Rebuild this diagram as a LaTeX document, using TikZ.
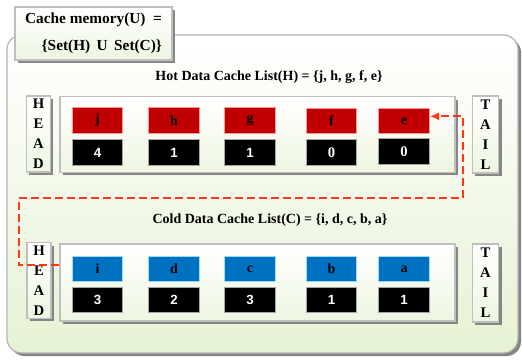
\documentclass[tikz,border=0pt]{standalone}
\usepackage{fontspec}
\setmainfont{Liberation Serif}
\newfontfamily\sansf{Liberation Sans}
\newfontfamily\seriff{Liberation Serif}
\usetikzlibrary{shadows,arrows.meta}
\definecolor{lgreen}{RGB}{230,242,212}
\definecolor{hotred}{RGB}{192,0,0}
\definecolor{coldblue}{RGB}{0,112,192}
\definecolor{dashred}{RGB}{255,55,20}
\begin{document}
\begin{tikzpicture}[x=0.75pt,y=-0.75pt,
  shad/.style={drop shadow={shadow xshift=2.2pt,shadow yshift=-2.2pt,fill=black!55,opacity=.85}},
  panel/.style={draw=gray!50,line width=0.9pt,top color=white,bottom color=lgreen!70,shad,inner sep=0pt},
  letters/.style={panel,minimum width=18pt,font=\seriff\fontsize{11}{15}\selectfont\bfseries,align=center},
  listbox/.style={panel,minimum width=296.25pt,minimum height=56.5pt},
  cell/.style={minimum width=38pt,minimum height=19pt,inner sep=0pt,line width=0.6pt},
  hot/.style={cell,fill=hotred,draw=red!40,font=\seriff\fontsize{10.5}{12}\selectfont\bfseries},
  cold/.style={cell,fill=coldblue,draw=cyan!40,font=\seriff\fontsize{10.5}{12}\selectfont\bfseries},
  cnt/.style={cell,fill=black,draw=gray!70,text=white,font=\sansf\fontsize{10}{12}\selectfont\bfseries},
  cntz/.style={cnt,font=\seriff\fontsize{11}{12}\selectfont\bfseries},
  ttl/.style={font=\seriff\fontsize{10.5}{12}\selectfont\bfseries},
  arr/.style={draw=dashred,line width=1.5pt,dash pattern=on 6pt off 3pt,-{Latex[length=7pt,width=6pt]}}
]
\useasboundingbox (0,0) rectangle (522,360);
% outer memory panel
\node[draw=gray!60,line width=0.9pt,rounded corners=11pt,top color=white,bottom color=lgreen,
      drop shadow={shadow xshift=2.3pt,shadow yshift=-2.3pt,fill=black!60,opacity=.8},
      minimum width=383.25pt,minimum height=238.5pt,inner sep=0pt] (mem) at (262.5,194) {};
% title box
\node[panel,minimum width=117.75pt,minimum height=39.75pt,align=right,
      font=\seriff\fontsize{11.5}{20}\selectfont\bfseries] (ttlbox) at (93.5,33.5)
      {Cache memory(U)\ \ =\\ \{Set(H)\, U\, Set(C)\}};
% hot list
\node[ttl] (hottitle) at (269,77) {Hot Data Cache List(H) = \{j, h, g, f, e\}};
\node[letters,minimum height=57pt] (hhead) at (38.5,134) {H\\E\\A\\D};
\node[letters,minimum height=57.75pt,minimum width=20pt] (htail) at (485.5,134.5) {T\\A\\I\\L};
\node[listbox] (hlist) at (257.5,134.5) {};
\node[hot] (j) at (97.5,120.5) {j};
\node[hot] (h) at (174,120.5) {h};
\node[hot] (g) at (250,120.5) {g};
\node[hot] (f) at (331.5,121) {f};
\node[hot] (e) at (404,121) {e};
\node[cnt] (cj) at (97.5,152.5) {4};
\node[cnt] (ch) at (174,152.5) {1};
\node[cnt] (cg) at (250,152.5) {1};
\node[cntz] (cf) at (331.5,152.5) {0};
\node[cntz] (ce) at (404,151.5) {0};
% cold list
\node[ttl] (coldtitle) at (270,220) {Cold Data Cache List(C) = \{i, d, c, b, a\}};
\node[letters,minimum height=56.5pt] (chead) at (39,280.5) {H\\E\\A\\D};
\node[letters,minimum height=58.5pt,minimum width=20pt] (ctail) at (485.5,283) {T\\A\\I\\L};
\node[listbox,minimum height=57.75pt] (clist) at (257.5,282.5) {};
\node[cold] (i) at (97.5,269) {i};
\node[cold] (d) at (174,269) {d};
\node[cold] (c) at (250,269) {c};
\node[cold] (b) at (331.5,269) {b};
\node[cold] (a) at (404,269) {a};
\node[cnt] (ci) at (97.5,300) {3};
\node[cnt] (cd) at (174,300) {2};
\node[cnt] (cc) at (250,300) {3};
\node[cnt] (cb) at (331.5,300) {1};
\node[cnt] (ca) at (404,300) {1};
% migration arrow
\draw[arr] (clist.west |- 0,265) -- (18.5,265) -- (18.5,198.5) -- (463,198.5) |- ([yshift=3.5pt]e.east);
\end{tikzpicture}
\end{document}
